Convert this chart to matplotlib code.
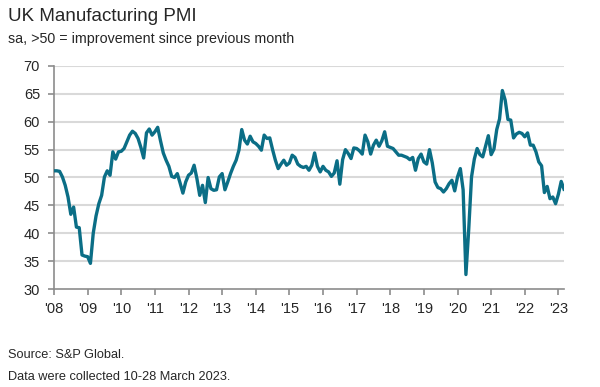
import matplotlib
matplotlib.use("Agg")
import matplotlib.pyplot as plt
import numpy as np

plt.rcParams['font.family'] = ['Liberation Sans', 'DejaVu Sans']

years = ["'08", "'09", "'10", "'11", "'12", "'13", "'14", "'15",
         "'16", "'17", "'18", "'19", "'20", "'21", "'22", "'23"]

pmi_2008 = [51.2, 51.2, 51.1, 50.1, 48.6, 46.5, 43.4, 44.7, 41.1, 41.0, 36.1, 35.9]
pmi_2009 = [35.8, 34.6, 40.0, 43.1, 45.3, 46.8, 50.1, 51.2, 50.4, 54.6, 53.3, 54.6]
pmi_2010 = [54.7, 55.2, 56.4, 57.6, 58.3, 57.9, 57.0, 55.4, 53.5, 58.0, 58.7, 57.6]
pmi_2011 = [58.2, 59.0, 56.6, 54.4, 53.1, 52.0, 50.2, 50.0, 50.7, 49.0, 47.2, 49.2]
pmi_2012 = [50.4, 50.8, 52.2, 49.8, 46.8, 48.6, 45.5, 50.0, 48.0, 47.7, 47.8, 50.1]
pmi_2013 = [50.7, 47.8, 49.2, 50.7, 52.0, 53.1, 54.9, 58.6, 56.7, 56.0, 57.4, 56.4]
pmi_2014 = [56.1, 55.6, 54.9, 57.6, 57.0, 57.1, 55.0, 53.1, 51.6, 52.4, 53.1, 52.2]
pmi_2015 = [52.6, 54.0, 53.6, 52.4, 52.0, 51.8, 52.0, 51.3, 52.2, 54.4, 52.0, 51.0]
pmi_2016 = [52.0, 51.3, 51.0, 50.2, 50.8, 53.0, 48.8, 53.2, 55.0, 54.3, 53.4, 55.3]
pmi_2017 = [55.2, 54.8, 54.2, 57.6, 56.4, 54.2, 55.8, 56.7, 55.6, 56.6, 58.2, 55.6]
pmi_2018 = [55.4, 55.2, 54.6, 54.0, 54.0, 53.8, 53.6, 53.2, 53.6, 51.3, 53.4, 54.2]
pmi_2019 = [52.8, 52.4, 55.0, 52.6, 49.2, 48.2, 48.0, 47.4, 48.0, 48.9, 49.5, 47.6]
pmi_2020 = [50.1, 51.6, 47.8, 32.6, 40.7, 50.1, 53.3, 55.2, 54.1, 53.7, 55.6, 57.5]
pmi_2021 = [54.1, 55.1, 58.6, 60.5, 65.6, 63.9, 60.4, 60.3, 57.1, 57.8, 58.1, 57.9]
pmi_2022 = [57.3, 58.0, 55.8, 55.8, 54.6, 52.8, 52.1, 47.3, 48.4, 46.2, 46.5, 45.3]
pmi_2023 = [47.0, 49.3, 47.9]

pmi = (pmi_2008 + pmi_2009 + pmi_2010 + pmi_2011 + pmi_2012 + pmi_2013 +
       pmi_2014 + pmi_2015 + pmi_2016 + pmi_2017 + pmi_2018 + pmi_2019 +
       pmi_2020 + pmi_2021 + pmi_2022 + pmi_2023)
months = np.arange(len(pmi))

fig = plt.figure(figsize=(6.0, 3.87), dpi=100)
ax = fig.add_axes([0.09, 0.2532, 0.85, 0.5763])

grid_c = '#d9d9d9'
spine_c = '#8c8c8c'
text_c = '#262626'

for v in range(35, 71, 5):
    ax.axhline(v, color=grid_c, lw=1.5, zorder=1)

ax.plot(months, pmi, color='#0b6e86', lw=2.4, zorder=3, solid_joinstyle='round')

ax.set_xlim(0, len(pmi) - 1)
ax.set_ylim(30, 70)
ax.set_yticks(range(30, 71, 5))
ax.set_xticks(np.arange(0, len(pmi), 12))
ax.set_xticklabels(years)

for s in ['top', 'right']:
    ax.spines[s].set_visible(False)
for s in ['left', 'bottom']:
    ax.spines[s].set_color(spine_c)
    ax.spines[s].set_linewidth(1.2)

ax.tick_params(axis='both', colors=spine_c, labelcolor=text_c, labelsize=10.5,
               length=4, width=1.2, direction='out')
ax.tick_params(axis='y', pad=6)
ax.tick_params(axis='x', pad=5)

fig.text(0.014, 0.957, 'UK Manufacturing PMI', fontsize=13.5, color=text_c,
         ha='left', va='center')
fig.text(0.014, 0.898, 'sa, >50 = improvement since previous month', fontsize=10.3,
         color=text_c, ha='left', va='center')
fig.text(0.014, 0.082, 'Source: S&P Global.', fontsize=9.2, color=text_c,
         ha='left', va='center')
fig.text(0.014, 0.027, 'Data were collected 10-28 March 2023.', fontsize=9.2,
         color=text_c, ha='left', va='center')

fig.savefig('out.png', dpi=100)
